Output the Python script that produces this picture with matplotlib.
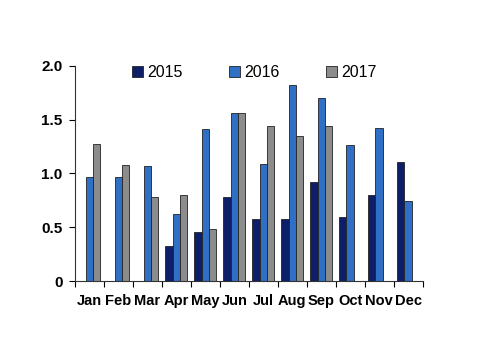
import numpy as np
import matplotlib.pyplot as plt
from matplotlib.patches import Patch

months = ['Jan', 'Feb', 'Mar', 'Apr', 'May', 'Jun', 'Jul', 'Aug', 'Sep', 'Oct', 'Nov', 'Dec']
y2015 = [np.nan, np.nan, np.nan, 0.33, 0.46, 0.78, 0.58, 0.58, 0.92, 0.60, 0.80, 1.11]
y2016 = [0.97, 0.97, 1.07, 0.62, 1.41, 1.56, 1.09, 1.82, 1.70, 1.26, 1.42, 0.74]
y2017 = [1.27, 1.08, 0.78, 0.80, 0.48, 1.56, 1.44, 1.35, 1.44, np.nan, np.nan, np.nan]
years = ['2015', '2016', '2017']
colors = ['#0c1f68', '#2f6fc6', '#8c8c8c']

plt.rcParams['font.family'] = ['Liberation Sans', 'DejaVu Sans']
fig = plt.figure(figsize=(5, 3.54), dpi=100)
ax = fig.add_axes([0.15, 0.206, 0.695, 0.608])

x = np.arange(len(months))
w = 0.25
for i, (vals, c) in enumerate(zip([y2015, y2016, y2017], colors)):
    ax.bar(x + (i - 1) * w, vals, width=w, color=c, edgecolor='#222222', linewidth=0.6)

ax.set_xlim(-0.5, 11.5)
ax.set_ylim(0, 2.0)
ax.set_yticks([0, 0.5, 1.0, 1.5, 2.0])
ax.set_yticklabels(['0', '0.5', '1.0', '1.5', '2.0'], fontsize=11, fontweight='bold')
ax.set_xticks(np.arange(-0.5, 12, 1))
ax.set_xticklabels([])
ax.set_xticks(x, minor=True)
ax.set_xticklabels(months, minor=True, fontsize=10.5, fontweight='bold')
ax.tick_params(axis='x', which='minor', length=0, pad=9)
ax.tick_params(axis='x', which='major', length=4, direction='out')
ax.tick_params(axis='y', length=4, direction='out', pad=5)
for s in ['top', 'right']:
    ax.spines[s].set_visible(False)
for s in ['left', 'bottom']:
    ax.spines[s].set_color('#333333')

handles = [Patch(facecolor=c, edgecolor='#222222', linewidth=0.6) for c in colors]
fig.legend(handles, years, loc='center', bbox_to_anchor=(0.508, 0.795), ncol=3, frameon=False,
           fontsize=11.5, handlelength=0.7, handleheight=0.7, handletextpad=0.25, columnspacing=2.9)

fig.savefig('out.png', dpi=100)
